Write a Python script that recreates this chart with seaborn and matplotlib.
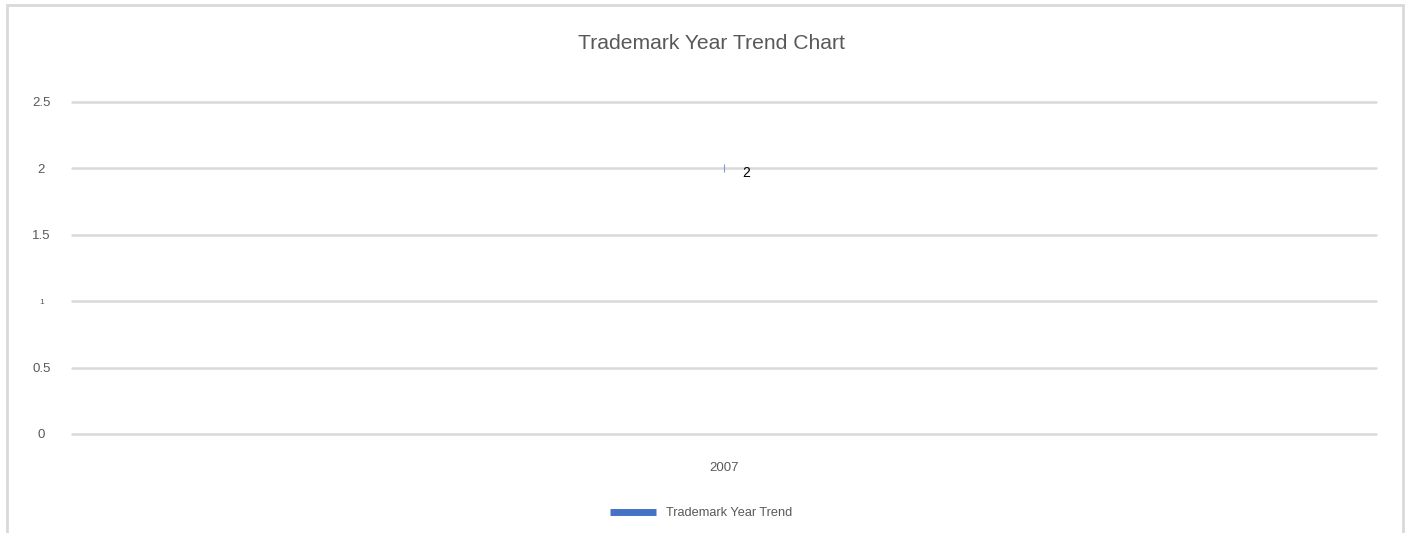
import matplotlib
matplotlib.use("Agg")
import matplotlib.pyplot as plt
from matplotlib.lines import Line2D
from matplotlib.patches import Rectangle
import seaborn as sns
import pandas as pd

years = ["2007"]
counts = [2]
series_name = "Trademark Year Trend"
title = "Trademark Year Trend Chart"
y_ticks = [0, 0.5, 1, 1.5, 2, 2.5]
y_tick_labels = ["0", "0.5", "1", "1.5", "2", "2.5"]

sns.set_theme(style="white")
plt.rcParams["font.family"] = ["Liberation Sans", "DejaVu Sans"]

df = pd.DataFrame({"year": years, "count": counts})

fig = plt.figure(figsize=(14.05, 5.33), dpi=100)
ax = fig.add_axes([72 / 1405, 1 - 434 / 533, (1376 - 72) / 1405, (434 - 102) / 533])

blue = "#4472c4"
sns.lineplot(data=df, x="year", y="count", ax=ax, color=blue, marker="|",
             markersize=6, markeredgewidth=0.8, markeredgecolor="#7a9bd6",
             linewidth=2.5, legend=False, zorder=5)

ax.set_xlim(-0.5, 0.5)
ax.set_ylim(0, 2.5)
ax.set_yticks(y_ticks)
ax.set_yticklabels(y_tick_labels)
for lbl in ax.get_yticklabels():
    lbl.set_color("#595959")
    lbl.set_horizontalalignment("center")
    lbl.set_fontsize(9.5 if lbl.get_text() != "1" else 6)
ax.tick_params(axis="y", length=0, pad=22)
ax.tick_params(axis="x", length=0, pad=20, labelsize=9.5, labelcolor="#595959")
ax.set_xlabel("")
ax.set_ylabel("")
for s in ax.spines.values():
    s.set_visible(False)
ax.yaxis.grid(True, color="#d9d9d9", linewidth=1.8)
ax.xaxis.grid(False)
ax.set_axisbelow(True)
for gl in ax.get_ygridlines():
    gl.set_clip_on(False)

for i, v in enumerate(counts):
    ax.annotate(str(v), (i, v), xytext=(13, -3), textcoords="offset points",
                ha="left", va="center", fontsize=10, color="black")

fig.text(711 / 1405, 1 - 43 / 533, title, ha="center", va="center",
         fontsize=15.2, color="#595959")

handle = Line2D([0], [0], color=blue, linewidth=5, solid_capstyle="butt")
fig.legend([handle], [series_name], loc="center", bbox_to_anchor=(701 / 1405, 1 - 513 / 533),
           frameon=False, fontsize=9.2, handlelength=3.6, handletextpad=0.8,
           labelcolor="#595959")

fig.patches.append(Rectangle((7 / 1405, -0.1), (1403 - 7) / 1405, 1.1 - 5 / 533,
                             transform=fig.transFigure, fill=False,
                             edgecolor="#d9d9d9", linewidth=2, clip_on=False))

fig.savefig("out.png", dpi=100, facecolor="white")
